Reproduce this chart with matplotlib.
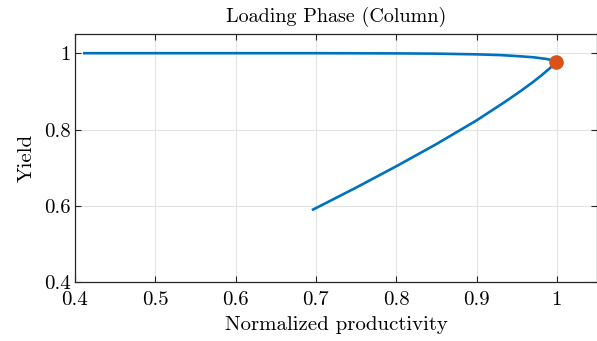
import matplotlib
matplotlib.use("Agg")
import matplotlib.pyplot as plt

plt.rcParams['font.family'] = 'serif'
plt.rcParams['font.serif'] = ['cmr10']
plt.rcParams['mathtext.fontset'] = 'cm'
plt.rcParams['axes.formatter.use_mathtext'] = True

# curve: lower branch up to the tip, then the flat top branch back
prod = [0.695, 0.75, 0.801, 0.85, 0.900, 0.935, 0.955, 0.970, 0.982, 0.991, 0.996, 0.998,
        0.995, 0.987, 0.970, 0.950, 0.93, 0.90, 0.85, 0.80, 0.70, 0.60, 0.50, 0.41]
yield_ = [0.589, 0.648, 0.705, 0.762, 0.824, 0.872, 0.901, 0.924, 0.944, 0.960, 0.970, 0.976,
          0.981, 0.985, 0.9895, 0.9925, 0.995, 0.997, 0.9988, 0.9995, 1.0, 1.0, 1.0, 1.0]
opt_prod = [0.9985]
opt_yield = [0.978]

xticks = [0.4, 0.5, 0.6, 0.7, 0.8, 0.9, 1.0]
xticklabels = ['0.4', '0.5', '0.6', '0.7', '0.8', '0.9', '1']
yticks = [0.4, 0.6, 0.8, 1.0]
yticklabels = ['0.4', '0.6', '0.8', '1']

fig = plt.figure(figsize=(5.97, 3.41), dpi=100)
ax = fig.add_axes([0.1256, 0.172, 0.8744, 0.728])

ax.plot(prod, yield_, color='#0072BD', lw=1.9, solid_capstyle='butt',
        solid_joinstyle='round', zorder=3)
ax.plot(opt_prod, opt_yield, 'o', color='#D95319', ms=9.5, zorder=4)

ax.set_xlim(0.4, 1.05)
ax.set_ylim(0.4, 1.05)
ax.set_xticks(xticks)
ax.set_xticklabels(xticklabels)
ax.set_yticks(yticks)
ax.set_yticklabels(yticklabels)
ax.grid(True, color='#e3e3e3', lw=0.8)
ax.set_axisbelow(True)
ax.tick_params(direction='in', length=4, width=0.8, color='#262626',
               labelsize=15, top=True, right=True)
ax.tick_params(axis='x', pad=6)
ax.tick_params(axis='y', pad=3)
for s in ax.spines.values():
    s.set_color('#262626')
    s.set_linewidth(0.9)

ax.set_xlabel('Normalized productivity', fontsize=15, labelpad=5)
ax.set_ylabel('Yield', fontsize=15, labelpad=6)
ax.set_title('Loading Phase (Column)', fontsize=14.5, pad=8.5)

fig.savefig('out.png', dpi=100)
